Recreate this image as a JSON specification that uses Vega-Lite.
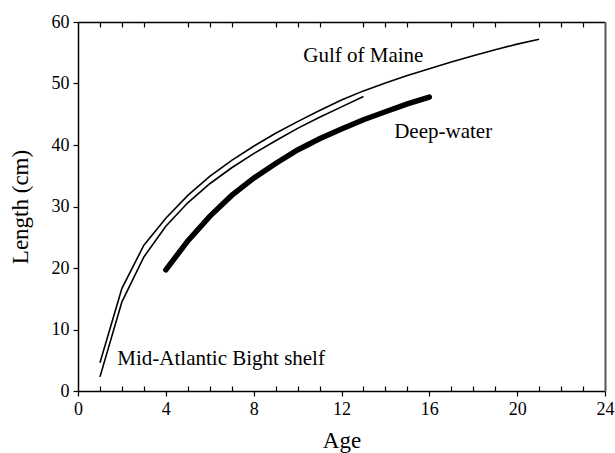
{
  "$schema": "https://vega.github.io/schema/vega-lite/v6.json",
  "width": 527,
  "height": 369,
  "autosize": "none",
  "padding": {"left": 78, "top": 22, "right": 10, "bottom": 62},
  "background": "white",
  "config": {
    "view": {"stroke": null},
    "font": "Liberation Serif",
    "axis": {
      "domainColor": "black", "domainWidth": 1.5, "tickColor": "black", "tickWidth": 1.2,
      "labelColor": "black", "titleColor": "black",
      "labelFont": "Liberation Serif", "titleFont": "Liberation Serif",
      "labelFontSize": 18, "titleFontSize": 23, "titleFontWeight": "normal", "grid": false
    }
  },
  "datasets": {
    "curves": [
      {"series": "Gulf of Maine", "age": 1, "length": 4.6},
      {"series": "Gulf of Maine", "age": 2, "length": 16.7},
      {"series": "Gulf of Maine", "age": 3, "length": 23.7},
      {"series": "Gulf of Maine", "age": 4, "length": 28.1},
      {"series": "Gulf of Maine", "age": 5, "length": 31.8},
      {"series": "Gulf of Maine", "age": 6, "length": 34.9},
      {"series": "Gulf of Maine", "age": 7, "length": 37.5},
      {"series": "Gulf of Maine", "age": 8, "length": 39.8},
      {"series": "Gulf of Maine", "age": 9, "length": 41.9},
      {"series": "Gulf of Maine", "age": 10, "length": 43.8},
      {"series": "Gulf of Maine", "age": 11, "length": 45.6},
      {"series": "Gulf of Maine", "age": 12, "length": 47.3},
      {"series": "Gulf of Maine", "age": 13, "length": 48.8},
      {"series": "Gulf of Maine", "age": 14, "length": 50.1},
      {"series": "Gulf of Maine", "age": 15, "length": 51.3},
      {"series": "Gulf of Maine", "age": 16, "length": 52.4},
      {"series": "Gulf of Maine", "age": 17, "length": 53.5},
      {"series": "Gulf of Maine", "age": 18, "length": 54.5},
      {"series": "Gulf of Maine", "age": 19, "length": 55.5},
      {"series": "Gulf of Maine", "age": 20, "length": 56.4},
      {"series": "Gulf of Maine", "age": 21, "length": 57.2},
      {"series": "Mid-Atlantic Bight shelf", "age": 1, "length": 2.3},
      {"series": "Mid-Atlantic Bight shelf", "age": 2, "length": 14.5},
      {"series": "Mid-Atlantic Bight shelf", "age": 3, "length": 21.8},
      {"series": "Mid-Atlantic Bight shelf", "age": 4, "length": 26.8},
      {"series": "Mid-Atlantic Bight shelf", "age": 5, "length": 30.6},
      {"series": "Mid-Atlantic Bight shelf", "age": 6, "length": 33.7},
      {"series": "Mid-Atlantic Bight shelf", "age": 7, "length": 36.3},
      {"series": "Mid-Atlantic Bight shelf", "age": 8, "length": 38.6},
      {"series": "Mid-Atlantic Bight shelf", "age": 9, "length": 40.7},
      {"series": "Mid-Atlantic Bight shelf", "age": 10, "length": 42.7},
      {"series": "Mid-Atlantic Bight shelf", "age": 11, "length": 44.5},
      {"series": "Mid-Atlantic Bight shelf", "age": 12, "length": 46.2},
      {"series": "Mid-Atlantic Bight shelf", "age": 13, "length": 47.9},
      {"series": "Deep-water", "age": 4, "length": 19.7},
      {"series": "Deep-water", "age": 5, "length": 24.4},
      {"series": "Deep-water", "age": 6, "length": 28.4},
      {"series": "Deep-water", "age": 7, "length": 31.8},
      {"series": "Deep-water", "age": 8, "length": 34.6},
      {"series": "Deep-water", "age": 9, "length": 37.0},
      {"series": "Deep-water", "age": 10, "length": 39.2},
      {"series": "Deep-water", "age": 11, "length": 41.0},
      {"series": "Deep-water", "age": 12, "length": 42.6},
      {"series": "Deep-water", "age": 13, "length": 44.1},
      {"series": "Deep-water", "age": 14, "length": 45.4},
      {"series": "Deep-water", "age": 15, "length": 46.7},
      {"series": "Deep-water", "age": 16, "length": 47.8}
    ],
    "labels": [
      {"label": "Gulf of Maine", "age": 10.26, "length": 53.5},
      {"label": "Deep-water", "age": 14.4, "length": 41.1},
      {"label": "Mid-Atlantic Bight shelf", "age": 1.79, "length": 4.2}
    ]
  },
  "resolve": {"axis": {"x": "independent", "y": "independent"}},
  "layer": [
    {
      "data": {"name": "curves"},
      "transform": [{"filter": "datum.series === 'Gulf of Maine'"}],
      "mark": {"type": "line", "color": "black", "strokeWidth": 1.6},
      "encoding": {
        "x": {"field": "age", "type": "quantitative", "scale": {"domain": [0, 24], "nice": false},
          "axis": {"orient": "bottom", "values": [0, 4, 8, 12, 16, 20, 24], "tickSize": 5, "labelPadding": 4, "title": "Age", "titlePadding": 11, "labelFlush": false}},
        "y": {"field": "length", "type": "quantitative", "scale": {"domain": [0, 60], "nice": false},
          "axis": {"orient": "left", "values": [0, 10, 20, 30, 40, 50, 60], "tickSize": 5, "labelPadding": 4, "title": "Length (cm)", "titlePadding": 19, "labelFlush": false}}
      }
    },
    {
      "data": {"name": "curves"},
      "transform": [{"filter": "datum.series === 'Mid-Atlantic Bight shelf'"}],
      "mark": {"type": "line", "color": "black", "strokeWidth": 1.6},
      "encoding": {
        "x": {"field": "age", "type": "quantitative",
          "axis": {"orient": "bottom", "values": [1, 2, 3, 5, 6, 7, 9, 10, 11, 13, 14, 15, 17, 18, 19, 21, 22, 23], "tickSize": -5, "labels": false, "domain": false, "title": null}},
        "y": {"field": "length", "type": "quantitative",
          "axis": {"orient": "right", "ticks": false, "labels": false, "domainColor": "#555555", "domainWidth": 2, "title": null}}
      }
    },
    {
      "data": {"name": "curves"},
      "transform": [{"filter": "datum.series === 'Deep-water'"}],
      "mark": {"type": "line", "color": "black", "strokeWidth": 5.5, "strokeCap": "round"},
      "encoding": {
        "x": {"field": "age", "type": "quantitative",
          "axis": {"orient": "top", "values": [1, 2, 3, 5, 6, 7, 9, 10, 11, 13, 14, 15, 17, 18, 19, 21, 22, 23], "tickSize": -5, "labels": false, "title": null}},
        "y": {"field": "length", "type": "quantitative", "axis": null}
      }
    },
    {
      "data": {"name": "labels"},
      "mark": {"type": "text", "align": "left", "baseline": "alphabetic", "fontSize": 21, "font": "Liberation Serif", "color": "black"},
      "encoding": {
        "x": {"field": "age", "type": "quantitative", "axis": null},
        "y": {"field": "length", "type": "quantitative", "axis": null},
        "text": {"field": "label"}
      }
    }
  ]
}
